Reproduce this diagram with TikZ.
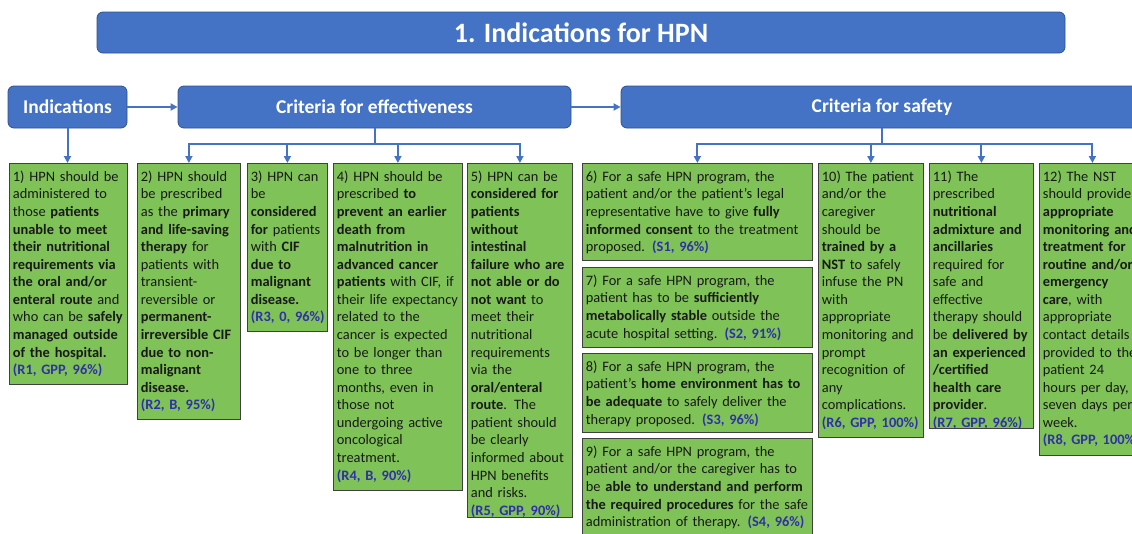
\documentclass[tikz,border=0pt]{standalone}
\usepackage{fontspec}
\setmainfont{Carlito}
\usetikzlibrary{arrows.meta}
\definecolor{hpnblue}{RGB}{68,114,196}
\definecolor{hpnedge}{RGB}{47,82,143}
\definecolor{hpngreen}{RGB}{126,194,88}
\definecolor{refblue}{RGB}{48,48,170}
\newcommand{\grade}[1]{\textcolor{refblue}{\textbf{#1}}}

\begin{document}
\begin{tikzpicture}[x=1pt,y=-1pt,
  head/.style={draw=hpnedge,line width=0.8pt,fill=hpnblue,rounded corners=6pt,text=white,
    font=\fontsize{19.5}{23}\selectfont\bfseries,minimum height=42pt,inner sep=0pt},
  crit/.style={draw=black!75,line width=0.8pt,fill=hpngreen,anchor=north west,align=left,
    inner xsep=3.5pt,inner ysep=3pt,text height=15pt,text=black!90,
    font=\fontsize{14.4}{17.57}\selectfont},
  conn/.style={draw=hpnblue,line width=2pt,-{Triangle[length=7pt,width=7pt]}}]
\useasboundingbox (0,0) rectangle (1132,533);
\clip (0,0) rectangle (1132,533);

\node[head,minimum width=968pt,minimum height=41pt,font=\fontsize{28}{33}\selectfont\bfseries] (title) at (581,32.5) {1. Indications for HPN};
\node[head,minimum width=119pt] (ind) at (67.5,107) {Indications};
\node[head,minimum width=393pt] (eff) at (374.5,107) {Criteria for effectiveness};
\node[head,minimum width=522pt] (saf) at (882,107) {Criteria for safety};

\node[crit,text width=111pt,text depth=200pt] (c1) at (9,163) {1) HPN should be\\
administered to\\
those \textbf{patients}\\
\textbf{unable to meet}\\
\textbf{their nutritional}\\
\textbf{requirements via}\\
\textbf{the oral and/or}\\
\textbf{enteral route} and\\
who can be \textbf{safely}\\
\textbf{managed outside}\\
\textbf{of the hospital.}\\
\grade{(R1, GPP, 96\%)}};
\node[crit,text width=96pt,text depth=235pt] (c2) at (137,163) {2) HPN should\\
be prescribed\\
as the \textbf{primary}\\
\textbf{and life-saving}\\
\textbf{therapy} for\\
patients with\\
transient-\\
reversible or\\
\textbf{permanent-}\\
\textbf{irreversible CIF}\\
\textbf{due to non-}\\
\textbf{malignant}\\
\textbf{disease.}\\
\grade{(R2, B, 95\%)}};
\node[crit,text width=73pt,text depth=147pt] (c3) at (247,163) {3) HPN can\\
be\\
\textbf{considered}\\
\textbf{for} patients\\
with \textbf{CIF}\\
\textbf{due to}\\
\textbf{malignant}\\
\textbf{disease.}\\
\grade{(R3,~0,~96\%)}};
\node[crit,text width=122pt,text depth=306pt] (c4) at (333,163) {4) HPN should be\\
prescribed \textbf{to}\\
\textbf{prevent an earlier}\\
\textbf{death from}\\
\textbf{malnutrition in}\\
\textbf{advanced cancer}\\
\textbf{patients} with CIF, if\\
their life expectancy\\
related to the\\
cancer is expected\\
to be longer than\\
one to three\\
months, even in\\
those not\\
undergoing active\\
oncological\\
treatment.\\
\grade{(R4, B, 90\%)}};
\node[crit,text width=98pt,text depth=333pt] (c5) at (467,163) {5) HPN can be\\
\textbf{considered for}\\
\textbf{patients}\\
\textbf{without}\\
\textbf{intestinal}\\
\textbf{failure who are}\\
\textbf{not able or do}\\
\textbf{not want} to\\
meet their\\
nutritional\\
requirements\\
via the\\
\textbf{oral/enteral}\\
\textbf{route}. The\\
patient should\\
be clearly\\
informed about\\
HPN benefits\\
and risks.\\
\grade{(R5, GPP, 90\%)}};

\node[crit,text width=223pt,text depth=76pt] (c6) at (582,163) {6) For a safe HPN program, the\\
patient and/or the patient’s legal\\
representative have to give \textbf{fully}\\
\textbf{informed consent} to the treatment\\
proposed. \grade{(S1, 96\%)}};
\node[crit,text width=223pt,text depth=59pt] (c7) at (582,267) {7) For a safe HPN program, the\\
patient has to be \textbf{sufficiently}\\
\textbf{metabolically stable} outside the\\
acute hospital setting. \grade{(S2, 91\%)}};
\node[crit,text width=223pt,text depth=58pt] (c8) at (582,353) {8) For a safe HPN program, the\\
patient’s \textbf{home environment has to}\\
\textbf{be adequate} to safely deliver the\\
therapy proposed. \grade{(S3, 96\%)}};
\node[crit,text width=223pt,text depth=84pt] (c9) at (582,438) {9) For a safe HPN program, the\\
patient and/or the caregiver has to\\
be \textbf{able to understand and perform}\\
\textbf{the required procedures} for the safe\\
administration of therapy. \grade{(S4, 96\%)}};
\node[crit,text width=98pt,text depth=253pt] (c10) at (818,163) {10) The patient\\
and/or the\\
caregiver\\
should be\\
\textbf{trained by a}\\
\textbf{NST} to safely\\
infuse the PN\\
with\\
appropriate\\
monitoring and\\
prompt\\
recognition of\\
any\\
complications.\\
\grade{(R6, GPP, 100\%)}};
\node[crit,text width=97pt,text depth=244pt] (c11) at (929,163) {11) The\\
prescribed\\
\textbf{nutritional}\\
\textbf{admixture and}\\
\textbf{ancillaries}\\
required for\\
safe and\\
effective\\
therapy should\\
be \textbf{delivered by}\\
\textbf{an experienced}\\
\textbf{/certified}\\
\textbf{health care}\\
\textbf{provider}.\\
\grade{(R7, GPP, 96\%)}};
\node[crit,text width=99pt,text depth=271pt] (c12) at (1039,163) {12) The NST\\
should provide\\
\textbf{appropriate}\\
\textbf{monitoring and}\\
\textbf{treatment for}\\
\textbf{routine and/or}\\
\textbf{emergency}\\
\textbf{care}, with\\
appropriate\\
contact details\\
provided to the\\
patient 24\\
hours per day,\\
seven days per\\
week.\\
\grade{(R8, GPP, 100\%)}};

\draw[conn] (ind) -- (eff);
\draw[conn] (eff) -- (saf);
\draw[conn] (ind.south) -- (ind.south |- c1.north);
\foreach \c in {c2,c3,c4,c5}
  \draw[conn] (eff.south) -- ++(0,16) -| (\c.north);
\foreach \c in {c6,c10,c11,c12}
  \draw[conn] (saf.south) -- ++(0,16) -| (\c.north);
\end{tikzpicture}
\end{document}
